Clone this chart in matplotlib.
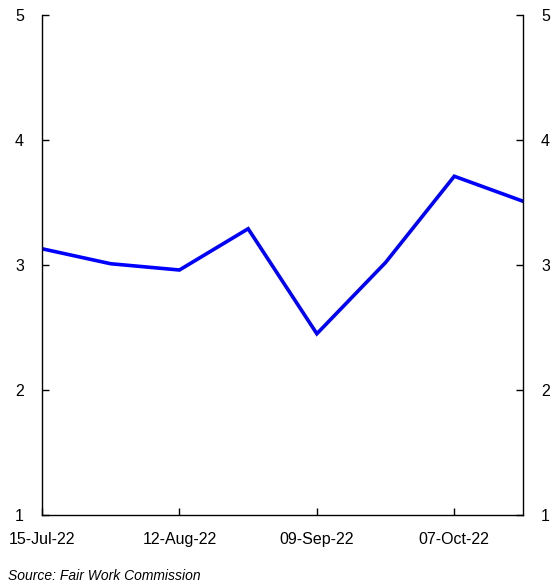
import numpy as np
import pandas as pd
import matplotlib
matplotlib.use('Agg')
import matplotlib.pyplot as plt
import matplotlib.dates as mdates

plt.rcParams['font.family'] = ['Liberation Sans', 'DejaVu Sans']

dates = pd.to_datetime(['2022-07-15', '2022-07-29', '2022-08-12', '2022-08-26',
                        '2022-09-09', '2022-09-23', '2022-10-07', '2022-10-21'])
values = [3.13, 3.01, 2.96, 3.29, 2.45, 3.02, 3.71, 3.51]
tick_dates = pd.to_datetime(['2022-07-15', '2022-08-12', '2022-09-09', '2022-10-07'])

fig = plt.figure(figsize=(5.51, 5.84), dpi=100)
ax = fig.add_axes([42/551, 1 - 515/584, 481/551, 500/584])
ax.plot(dates, values, color='#0000ff', lw=2.6, solid_joinstyle='miter')

ax.set_xlim(dates[0], dates[-1])
ax.set_ylim(1, 5)
ax.set_yticks([1, 2, 3, 4, 5])
ax.set_xticks(tick_dates)
ax.xaxis.set_major_formatter(mdates.DateFormatter('%d-%b-%y'))

for s in ['left', 'right', 'bottom']:
    ax.spines[s].set_linewidth(1.0)
    ax.spines[s].set_color('black')
ax.spines['top'].set_visible(False)

ax.tick_params(axis='y', direction='in', length=5, width=1, labelsize=11.5,
               left=True, right=True, labelleft=True, labelright=True, pad=13)
ax.tick_params(axis='x', direction='in', length=5, width=1, labelsize=11.5, pad=12)

fig.text(8/551, 1 - 576/584, 'Source: Fair Work Commission', fontsize=10,
         style='italic', va='center', ha='left')

fig.savefig('out.png', dpi=100)
